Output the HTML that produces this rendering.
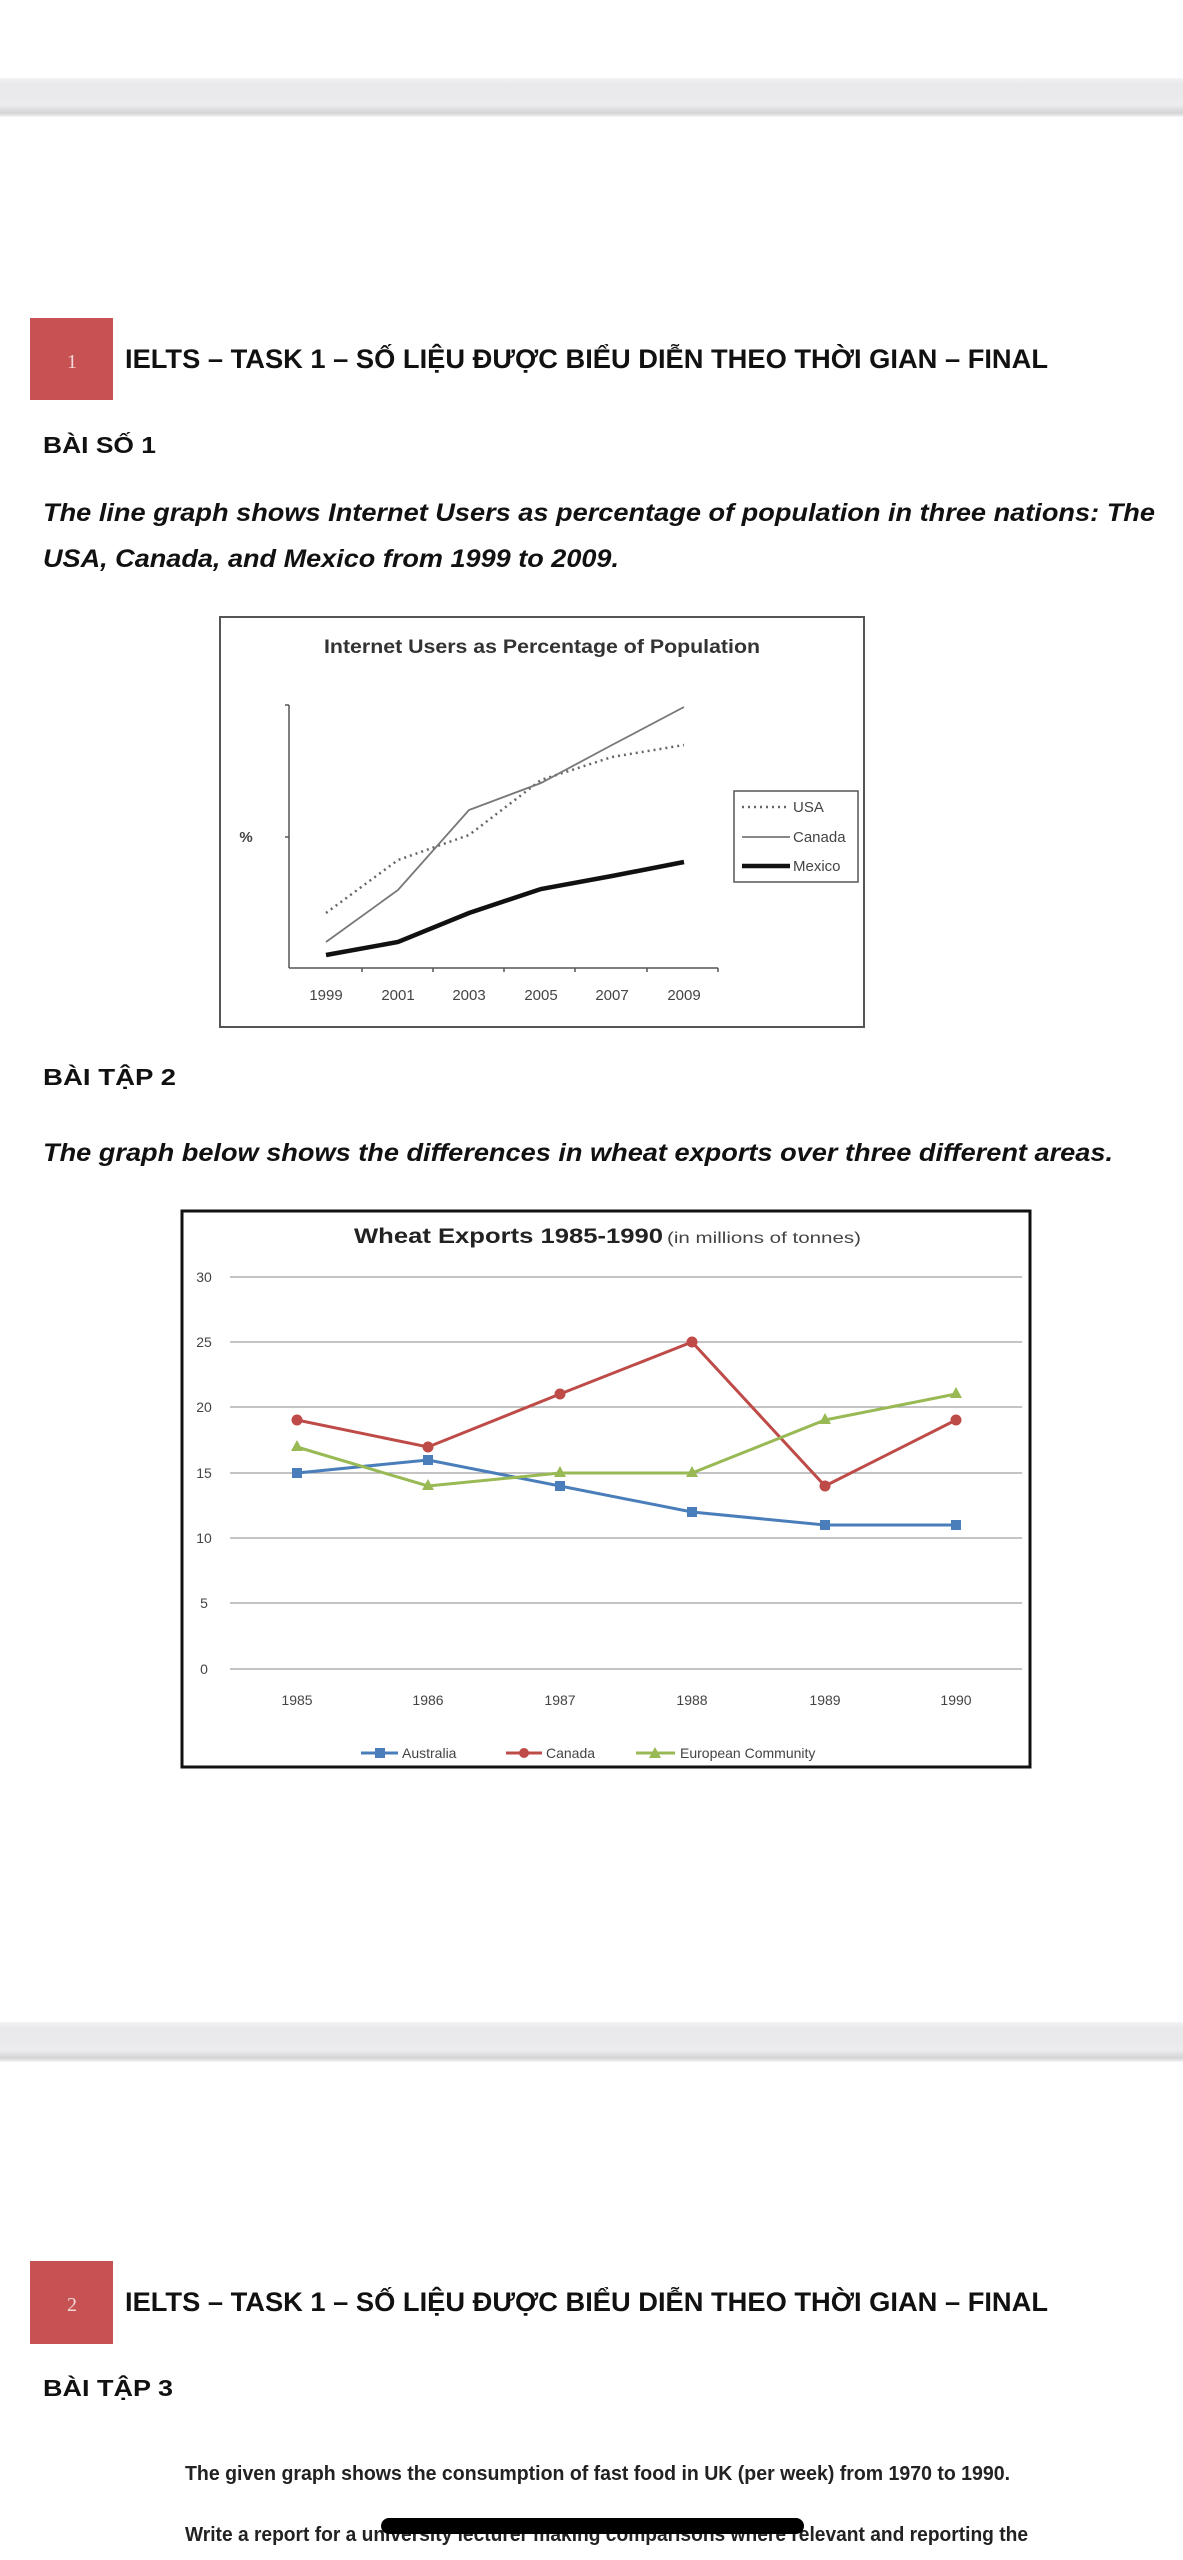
<!DOCTYPE html>
<html><head><meta charset="utf-8"><style>
html,body{margin:0;padding:0;background:#fff;}
svg{display:block;}
</style></head><body>
<svg width="1183" height="2560" viewBox="0 0 1183 2560" xmlns="http://www.w3.org/2000/svg" font-family="Liberation Sans, sans-serif">
<defs>
<linearGradient id="band" x1="0" y1="0" x2="0" y2="1">
<stop offset="0" stop-color="#f4f4f6"/><stop offset="0.15" stop-color="#e9e9eb"/><stop offset="0.7" stop-color="#ececee"/><stop offset="0.9" stop-color="#d4d4d6"/><stop offset="1" stop-color="#f6f6f6"/>
</linearGradient>
</defs>
<rect x="0" y="0" width="1183" height="2560" fill="#fff"/>
<rect x="0" y="78" width="1183" height="39" fill="url(#band)"/>
<rect x="0" y="2022" width="1183" height="40" fill="url(#band)"/>

<!-- header 1 -->
<rect x="30" y="318" width="83" height="82" fill="#c65254"/>
<text x="72" y="368" font-family="Liberation Serif, serif" font-size="20" fill="#f3d6d6" text-anchor="middle">1</text>
<text x="125" y="368" font-size="27" font-weight="bold" fill="#111" textLength="923" lengthAdjust="spacingAndGlyphs">IELTS – TASK 1 – SỐ LIỆU ĐƯỢC BIỂU DIỄN THEO THỜI GIAN – FINAL</text>
<text x="43" y="453" font-size="23" font-weight="bold" fill="#111" textLength="113" lengthAdjust="spacingAndGlyphs">BÀI SỐ 1</text>
<text x="43" y="521" font-size="25" font-weight="bold" font-style="italic" fill="#111" textLength="1112" lengthAdjust="spacingAndGlyphs">The line graph shows Internet Users as percentage of population in three nations: The</text>
<text x="43" y="567" font-size="25" font-weight="bold" font-style="italic" fill="#111" textLength="576" lengthAdjust="spacingAndGlyphs">USA, Canada, and Mexico from 1999 to 2009.</text>

<!-- chart 1 -->
<rect x="220" y="617" width="644" height="410" fill="#fff" stroke="#555" stroke-width="2"/>
<text x="542" y="653" font-size="19" font-weight="bold" fill="#333" text-anchor="middle" textLength="436" lengthAdjust="spacingAndGlyphs">Internet Users as Percentage of Population</text>
<g stroke="#555" stroke-width="1.5" fill="none">
<line x1="289" y1="705" x2="289" y2="968"/>
<line x1="289" y1="968" x2="718" y2="968"/>
<line x1="285" y1="705" x2="289" y2="705"/>
<line x1="285" y1="837" x2="289" y2="837"/>
<line x1="362" y1="968" x2="362" y2="972"/><line x1="433" y1="968" x2="433" y2="972"/><line x1="504" y1="968" x2="504" y2="972"/><line x1="575" y1="968" x2="575" y2="972"/><line x1="647" y1="968" x2="647" y2="972"/><line x1="718" y1="968" x2="718" y2="972"/>
</g>
<text x="246" y="842" font-size="15" font-weight="bold" fill="#444" text-anchor="middle">%</text>
<g font-size="15" fill="#444" text-anchor="middle">
<text x="326" y="1000">1999</text><text x="398" y="1000">2001</text><text x="469" y="1000">2003</text><text x="541" y="1000">2005</text><text x="612" y="1000">2007</text><text x="684" y="1000">2009</text>
</g>
<polyline points="326,913 398,860 469,835 541,780 612,757 684,745" fill="none" stroke="#666" stroke-width="2.5" stroke-dasharray="2,4"/>
<polyline points="326,942 398,890 469,810 541,783 612,745 684,707" fill="none" stroke="#777" stroke-width="1.8"/>
<polyline points="326,955 398,942 469,913 541,889 612,876 684,862" fill="none" stroke="#111" stroke-width="4.5"/>
<rect x="734" y="791" width="124" height="91" fill="#fff" stroke="#555" stroke-width="1.5"/>
<line x1="742" y1="807" x2="790" y2="807" stroke="#666" stroke-width="2.5" stroke-dasharray="2,4"/>
<line x1="742" y1="837" x2="790" y2="837" stroke="#777" stroke-width="1.8"/>
<line x1="742" y1="866" x2="790" y2="866" stroke="#111" stroke-width="4.5"/>
<g font-size="15" fill="#444"><text x="793" y="812">USA</text><text x="793" y="842">Canada</text><text x="793" y="871">Mexico</text></g>

<text x="43" y="1085" font-size="23" font-weight="bold" fill="#111" textLength="133" lengthAdjust="spacingAndGlyphs">BÀI TẬP 2</text>
<text x="43" y="1161" font-size="25" font-weight="bold" font-style="italic" fill="#111" textLength="1070" lengthAdjust="spacingAndGlyphs">The graph below shows the differences in wheat exports over three different areas.</text>

<!-- chart 2 -->
<rect x="182" y="1211" width="848" height="556" fill="#fff" stroke="#111" stroke-width="3"/>
<text x="354" y="1243" font-size="21" font-weight="bold" fill="#222" textLength="309" lengthAdjust="spacingAndGlyphs">Wheat Exports 1985-1990</text>
<text x="667" y="1243" font-size="16" fill="#444" textLength="194" lengthAdjust="spacingAndGlyphs">(in millions of tonnes)</text>
<g stroke="#a0a0a0" stroke-width="1.3">
<line x1="230" y1="1277" x2="1022" y2="1277"/><line x1="230" y1="1342" x2="1022" y2="1342"/><line x1="230" y1="1407" x2="1022" y2="1407"/><line x1="230" y1="1473" x2="1022" y2="1473"/><line x1="230" y1="1538" x2="1022" y2="1538"/><line x1="230" y1="1603" x2="1022" y2="1603"/><line x1="230" y1="1669" x2="1022" y2="1669"/>
</g>
<g font-size="14" fill="#444" text-anchor="middle">
<text x="204" y="1282">30</text><text x="204" y="1347">25</text><text x="204" y="1412">20</text><text x="204" y="1478">15</text><text x="204" y="1543">10</text><text x="204" y="1608">5</text><text x="204" y="1674">0</text>
<text x="297" y="1705">1985</text><text x="428" y="1705">1986</text><text x="560" y="1705">1987</text><text x="692" y="1705">1988</text><text x="825" y="1705">1989</text><text x="956" y="1705">1990</text>
</g>
<!-- Australia -->
<polyline points="297,1473 428,1460 560,1486 692,1512 825,1525 956,1525" fill="none" stroke="#4a7ebb" stroke-width="3"/>
<g fill="#4a7ebb"><rect x="292" y="1468" width="10" height="10"/><rect x="423" y="1455" width="10" height="10"/><rect x="555" y="1481" width="10" height="10"/><rect x="687" y="1507" width="10" height="10"/><rect x="820" y="1520" width="10" height="10"/><rect x="951" y="1520" width="10" height="10"/></g>
<!-- Canada -->
<polyline points="297,1420 428,1447 560,1394 692,1342 825,1486 956,1420" fill="none" stroke="#be4b48" stroke-width="3"/>
<g fill="#be4b48"><circle cx="297" cy="1420" r="5.5"/><circle cx="428" cy="1447" r="5.5"/><circle cx="560" cy="1394" r="5.5"/><circle cx="692" cy="1342" r="5.5"/><circle cx="825" cy="1486" r="5.5"/><circle cx="956" cy="1420" r="5.5"/></g>
<!-- EC -->
<polyline points="297,1447 428,1486 560,1473 692,1473 825,1420 956,1394" fill="none" stroke="#98b954" stroke-width="3"/>
<g fill="#98b954"><path d="M297,1440 l6,11 h-12z"/><path d="M428,1479 l6,11 h-12z"/><path d="M560,1466 l6,11 h-12z"/><path d="M692,1466 l6,11 h-12z"/><path d="M825,1413 l6,11 h-12z"/><path d="M956,1387 l6,11 h-12z"/></g>
<!-- legend -->
<line x1="361" y1="1753" x2="398" y2="1753" stroke="#4a7ebb" stroke-width="3"/><rect x="375" y="1748" width="10" height="10" fill="#4a7ebb"/>
<line x1="506" y1="1753" x2="542" y2="1753" stroke="#be4b48" stroke-width="3"/><circle cx="524" cy="1753" r="5" fill="#be4b48"/>
<line x1="636" y1="1753" x2="675" y2="1753" stroke="#98b954" stroke-width="3"/><path d="M655,1747 l6,11 h-12z" fill="#98b954"/>
<g font-size="14" fill="#444"><text x="402" y="1758">Australia</text><text x="546" y="1758">Canada</text><text x="680" y="1758">European Community</text></g>

<!-- header 2 -->
<rect x="30" y="2261" width="83" height="83" fill="#c65254"/>
<text x="72" y="2311" font-family="Liberation Serif, serif" font-size="20" fill="#f3d6d6" text-anchor="middle">2</text>
<text x="125" y="2311" font-size="27" font-weight="bold" fill="#111" textLength="923" lengthAdjust="spacingAndGlyphs">IELTS – TASK 1 – SỐ LIỆU ĐƯỢC BIỂU DIỄN THEO THỜI GIAN – FINAL</text>
<text x="43" y="2396" font-size="23" font-weight="bold" fill="#111" textLength="130" lengthAdjust="spacingAndGlyphs">BÀI TẬP 3</text>
<text x="185" y="2480" font-size="20" font-weight="bold" fill="#222" textLength="825" lengthAdjust="spacingAndGlyphs">The given graph shows the consumption of fast food in UK (per week) from 1970 to 1990.</text>
<text x="185" y="2541" font-size="20" font-weight="bold" fill="#222" textLength="843" lengthAdjust="spacingAndGlyphs">Write a report for a university lecturer making comparisons where relevant and reporting the</text>
<rect x="381" y="2518" width="423" height="16" rx="8" fill="#000"/>
</svg>
</body></html>
